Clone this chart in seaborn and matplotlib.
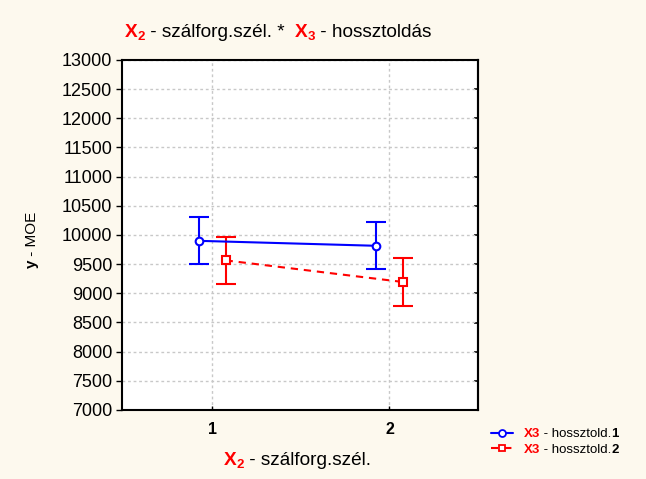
import matplotlib
matplotlib.use('Agg')
import matplotlib.pyplot as plt
import numpy as np
import pandas as pd
import seaborn as sns
from matplotlib.lines import Line2D

# adatok
levels = [1, 2]
moe_h1 = [9900, 9815]
moe_h2 = [9565, 9195]
err_h1 = [405, 405]
err_h2 = [405, 405]
groups = ['1', '2']
y_ticks = list(range(7000, 13001, 500))

W, H = 646, 479
BG = '#FDF9EE'
RED = '#FF0000'
BLUE = '#0000FF'

sns.set_theme(style='white')
plt.rcParams['font.family'] = ['Liberation Sans', 'DejaVu Sans']

fig = plt.figure(figsize=(W / 100, H / 100), dpi=100, facecolor=BG)
ax = fig.add_axes([122 / W, 1 - 410 / H, 356 / W, 350 / H])
ax.set_facecolor('white')

df = pd.DataFrame({
    'x': levels * 2,
    'moe': moe_h1 + moe_h2,
    'err': err_h1 + err_h2,
    'hossz': [groups[0]] * 2 + [groups[1]] * 2,
})
dodge = {'1': -0.075, '2': 0.075}
df['xpos'] = df['x'] + df['hossz'].map(dodge)
colors = {'1': BLUE, '2': RED}

# hibasávok
for g, sub in df.groupby('hossz'):
    ax.errorbar(sub['xpos'], sub['moe'], yerr=sub['err'], fmt='none',
                ecolor=colors[g], elinewidth=1.5, capsize=7.2, capthick=1.5, zorder=3)

sns.lineplot(data=df, x='xpos', y='moe', hue='hossz', style='hossz',
             palette=colors, dashes={'1': '', '2': (3.5, 2.8)},
             markers={'1': 'o', '2': 's'}, markersize=5.5, linewidth=1.5,
             legend=False, ax=ax, zorder=4)
for ln in ax.lines:
    if ln.get_marker() in ('o', 's'):
        ln.set_markeredgecolor(ln.get_color())
        ln.set_markerfacecolor('white')
        ln.set_markeredgewidth(1.5)

ax.set_xlim(0.49, 2.5)
ax.set_ylim(7000, 13000)
ax.set_xticks(levels)
ax.set_xticklabels([str(v) for v in levels], fontweight='bold', fontsize=11.5)
ax.set_yticks(y_ticks)
ax.set_yticklabels([str(v) for v in y_ticks], fontsize=13)
ax.tick_params(axis='y', left=True, direction='out', length=4, width=1,
               color='black', labelcolor='black', pad=3)
ax.tick_params(axis='x', bottom=True, direction='in', length=3, width=1,
               color='black', labelcolor='black', pad=9)
ax.grid(True, color='#C8C8C8', linestyle=(0, (2, 2)), linewidth=1)
for sp in ax.spines.values():
    sp.set_color('black')
    sp.set_linewidth(1.5)
ax.set_xlabel('')
ax.set_ylabel('')

# jobb oldali befelé mutató osztások
sec = ax.secondary_yaxis('right')
sec.set_yticks(y_ticks)
sec.tick_params(direction='in', length=3, width=1.2, color='black', labelright=False)
sec.spines['right'].set_linewidth(1.5)

renderer = fig.canvas.get_renderer()


def rich_text(x, y, parts, rotation=0, va='baseline'):
    # darabokból összerakott szöveg, pixelben (képen felülről mért y)
    for s, st in parts:
        st = dict(st)
        dy = st.pop('dy', 0)
        if rotation == 0:
            t = fig.text(x / W, 1 - (y - dy) / H, s, ha='left', va=va, **st)
            x += t.get_window_extent(renderer).width
        else:
            t = fig.text(x / W, 1 - y / H, s, ha='left', va=va,
                         rotation=90, rotation_mode='anchor', **st)
            y -= t.get_window_extent(renderer).height


red_b = dict(color=RED, fontweight='bold', fontsize=13.7)
sub_b = dict(color=RED, fontweight='bold', fontsize=9.5, dy=-3.5)
norm = dict(color='black', fontsize=13.7)

rich_text(125, 37, [('X', red_b), ('2', sub_b), (' - szálforg.szél. *  ', norm),
                    ('X', red_b), ('3', sub_b), (' - hossztoldás', norm)])
rich_text(224, 465, [('X', red_b), ('2', sub_b), (' - szálforg.szél.', norm)])
rich_text(36, 268, [('y', dict(color='black', fontweight='bold', fontsize=11)),
                    (' - MOE', dict(color='black', fontsize=11))], rotation=90)

# jelmagyarázat
handles = [Line2D([], [], color=BLUE, marker='o', mfc='white', mec=BLUE, ms=5, mew=1.3, lw=1.5),
           Line2D([], [], color=RED, marker='s', mfc='white', mec=RED, ms=5, mew=1.3, lw=1.5,
                  dashes=(3.5, 2.8))]
leg_labels = ['X3 - hossztold.' + g for g in groups]
leg = fig.legend(handles, leg_labels, loc='upper left', bbox_to_anchor=(491 / W, 1 - 428 / H),
                 frameon=False, fontsize=9.5, handlelength=1.7, handletextpad=0.8,
                 labelspacing=0.25, borderpad=0, borderaxespad=0)
fig.canvas.draw()
for txt, g in zip(leg.get_texts(), groups):
    ext = txt.get_window_extent(renderer)
    txt.set_alpha(0)
    yc = H - (ext.y0 + ext.y1) / 2
    rich_text(ext.x0, yc, [('X3', dict(color=RED, fontweight='bold', fontsize=9.5)),
                           (' - hossztold.', dict(color='black', fontsize=9.5)),
                           (g, dict(color='black', fontweight='bold', fontsize=9.5))],
              va='center')

fig.savefig('out.png', dpi=100, facecolor=BG)
